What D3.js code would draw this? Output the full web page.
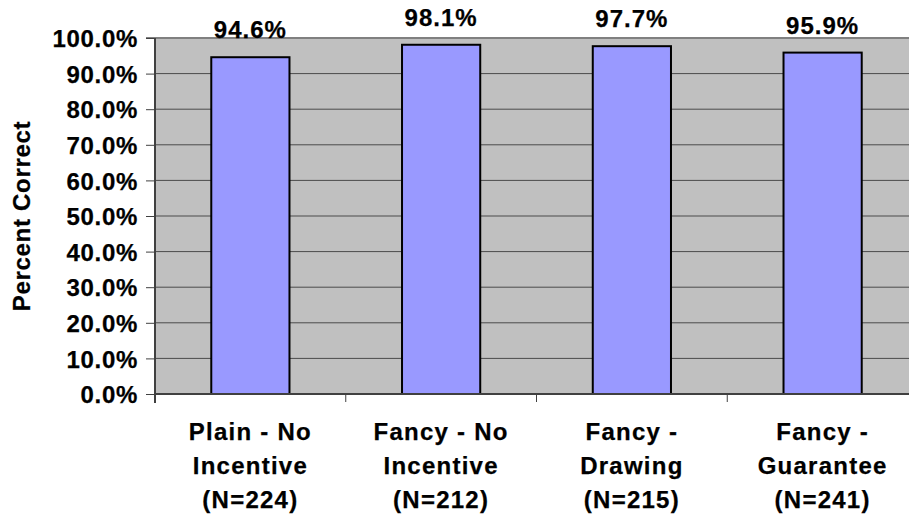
<!DOCTYPE html>
<html>
<head>
<meta charset="utf-8">
<script src="https://cdn.jsdelivr.net/npm/d3@7"></script>
<style>
  html, body { margin: 0; padding: 0; background: #fff; }
  svg { display: block; }
  text { font-family: "Liberation Sans", Arial, sans-serif; font-weight: bold; fill: #000; stroke: #000; stroke-width: 0.25px; }
</style>
</head>
<body>
<svg id="chart" width="909" height="518"></svg>
<script>
// Survey accuracy by questionnaire version
const categories = [
  ["Plain - No", "Incentive", "(N=224)"],
  ["Fancy - No", "Incentive", "(N=212)"],
  ["Fancy -", "Drawing", "(N=215)"],
  ["Fancy -", "Guarantee", "(N=241)"]
];
const percentCorrect = [0.946, 0.981, 0.977, 0.959];
const yTicks = [0, 0.1, 0.2, 0.3, 0.4, 0.5, 0.6, 0.7, 0.8, 0.9, 1.0];
const yTitle = "Percent Correct";

const svg = d3.select("#chart");
const plot = { left: 155, top: 38, right: 918, bottom: 394 };

const keys = categories.map((c, i) => i);
const x = d3.scaleBand().domain(keys).range([plot.left, plot.right]).padding(0);
const y = d3.scaleLinear().domain([0, 1]).range([plot.bottom, plot.top]);
const barW = x.bandwidth() * 0.41;
const fmt = d3.format(".1%");

// plot background
svg.append("rect")
  .attr("x", plot.left).attr("y", plot.top)
  .attr("width", plot.right - plot.left).attr("height", plot.bottom - plot.top)
  .attr("fill", "#c0c0c0");

// horizontal gridlines
svg.append("g")
  .selectAll("line")
  .data(yTicks.filter(t => t > 0 && t < 1))
  .join("line")
  .attr("x1", plot.left).attr("x2", plot.right)
  .attr("y1", d => y(d)).attr("y2", d => y(d))
  .attr("stroke", "#4a4a4a").attr("stroke-width", 1);

// top border of plot area
svg.append("line")
  .attr("x1", plot.left - 9).attr("x2", plot.right)
  .attr("y1", y(1)).attr("y2", y(1))
  .attr("stroke", "#808080").attr("stroke-width", 2);

// bars
svg.append("g")
  .selectAll("rect")
  .data(percentCorrect)
  .join("rect")
  .attr("x", (d, i) => x(i) + (x.bandwidth() - barW) / 2)
  .attr("y", d => y(d))
  .attr("width", barW)
  .attr("height", d => y(0) - y(d))
  .attr("fill", "#9999ff")
  .attr("stroke", "#000")
  .attr("stroke-width", 2);

// value labels
svg.append("g")
  .selectAll("text")
  .data(percentCorrect)
  .join("text")
  .attr("x", (d, i) => x(i) + x.bandwidth() / 2)
  .attr("y", d => y(d) - 19)
  .attr("text-anchor", "middle")
  .style("font-size", "24px")
  .style("letter-spacing", "1px")
  .text(d => fmt(d));

// y axis
const yAxis = d3.axisLeft(y).tickValues(yTicks).tickFormat(fmt).tickSize(9).tickPadding(8);
const gy = svg.append("g").attr("transform", `translate(${plot.left},0)`).call(yAxis);
gy.select(".domain").attr("stroke", "#404040").attr("stroke-width", 2)
  .attr("d", `M0,${plot.top}V${plot.bottom + 9}`);
gy.selectAll(".tick line").attr("stroke", "#404040").attr("stroke-width", 1);
gy.selectAll(".tick text")
  .style("font-size", "24px").style("letter-spacing", "0.7px")
  .attr("font-family", null).attr("fill", "#000").attr("dy", "0.36em");

// x axis with ticks between categories
const gx = svg.append("g");
gx.append("line")
  .attr("x1", plot.left).attr("x2", plot.right)
  .attr("y1", plot.bottom).attr("y2", plot.bottom)
  .attr("stroke", "#404040").attr("stroke-width", 2);
gx.selectAll("line.tick")
  .data(keys.slice(1))
  .join("line").attr("class", "tick")
  .attr("x1", d => x(d)).attr("x2", d => x(d))
  .attr("y1", plot.bottom).attr("y2", plot.bottom + 8)
  .attr("stroke", "#404040").attr("stroke-width", 1);

// category labels (three lines each)
const catG = gx.selectAll("text.cat")
  .data(categories)
  .join("text").attr("class", "cat")
  .attr("text-anchor", "middle")
  .style("font-size", "24px")
  .style("letter-spacing", "1.25px");
catG.selectAll("tspan")
  .data((d, i) => d.map(line => ({ line, i })))
  .join("tspan")
  .attr("x", d => x(d.i) + x.bandwidth() / 2)
  .attr("y", (d, j) => 440 + j * 34)
  .text(d => d.line);

// y axis title
svg.append("text")
  .attr("transform", `translate(${30},${(plot.top + plot.bottom) / 2}) rotate(-90)`)
  .attr("text-anchor", "middle")
  .style("font-size", "24px")
  .style("letter-spacing", "0.7px")
  .text(yTitle);
</script>
</body>
</html>
